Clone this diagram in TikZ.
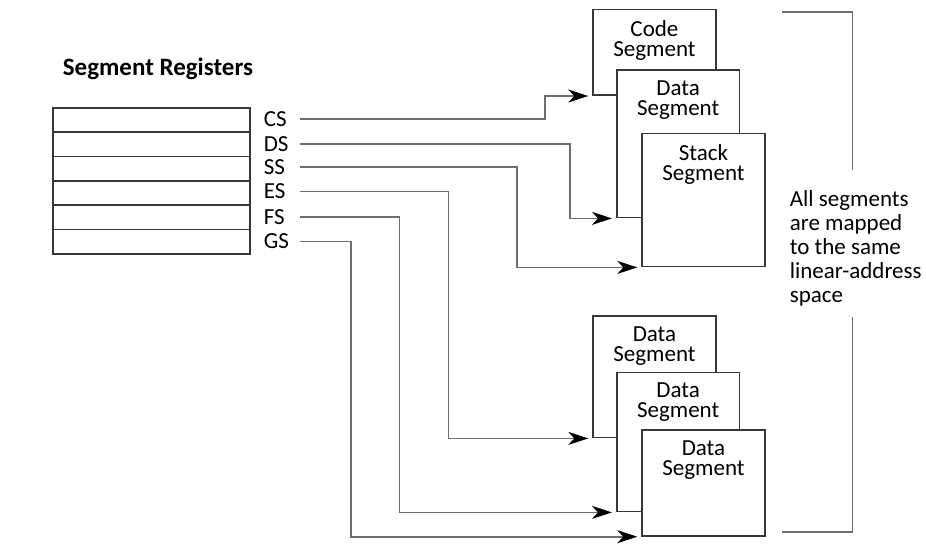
\documentclass[tikz,border=0pt]{standalone}
\usepackage{fontspec}
\setmainfont{Carlito}
\usepackage{tikz}
\usetikzlibrary{positioning, arrows.meta}
\definecolor{wiregray}{RGB}{110,110,110}
\definecolor{framegray}{RGB}{55,55,55}
\newcommand{\segfont}{\fontsize{11.5}{10}\selectfont}
\tikzset{
    regrow/.style={draw=framegray, anchor=north west, inner sep=0pt, minimum width=98.5pt, minimum height=12.17pt},
    regname/.style={anchor=west, inner sep=0pt, text width=17.5pt, align=left, font=\fontsize{11.5}{12}\selectfont},
    segbox/.style={draw=framegray, fill=white, anchor=north west, inner sep=0pt, minimum width=61.3pt},
    segtext/.style={align=center, inner sep=0pt, font=\segfont},
    link/.style={draw=wiregray, ->, shorten >=2pt},
}
% name, north west corner, height, text
\newcommand{\segment}[4]{
    \node[segbox, minimum height=#3] (#1) at (#2) {};
    \node[segtext, below=5.25pt of #1.north] (#1txt) {#4};
    }

\begin{document}
\begin{tikzpicture}[x=0.5pt, y=-0.5pt, line width=0.85pt,
    >={Stealth[length=10pt, width=6.5pt, inset=3pt, color=black]}]
    \useasboundingbox (0,0) rectangle (926,553);
    \node[font=\bfseries\fontsize{12.5}{15}\selectfont, anchor=base] (title) at (158,75) {Segment Registers};
    \foreach \i in {0,...,5}
        \node[regrow] (row\i) at (52,{107+24.33*\i}) {};
    \foreach \reg/\ypos in {CS/119.3, DS/144, SS/167.3, ES/191.5, FS/216.7, GS/241.5}
        \node[regname] (\reg) at (263,\ypos) {\reg};

    \segment{code}{592.3,8.7}{42.8pt}{Code\\Segment}
    \segment{dseg}{616,69.3}{73.7pt}{Data\\Segment}
    \segment{sseg}{641.3,132.7}{66.5pt}{Stack\\Segment}
    \segment{dsegA}{592.3,315}{60.85pt}{Data\\Segment}
    \segment{dsegB}{616,371.7}{69.5pt}{Data\\Segment}
    \segment{dsegC}{641.3,429}{53pt}{Data\\Segment}

    \draw[link] (CS.east) -- ++(245.3,0) |- (code.south west);
    \draw[link] (DS.east) -- ++(270.3,0) |- (dseg.south west);
    \draw[link] (SS.east) -- ++(217,0) |- (sseg.south west);
    \draw[link] (ES.east) -- ++(148.7,0) |- (dsegA.south west);
    \draw[link] (FS.east) -- ++(99.7,0) |- (dsegB.south west);
    \draw[link] (GS.east) -- ++(51,0) |- (dsegC.south west);

    \node[anchor=west, inner sep=0pt, align=left, font=\fontsize{11.5}{12}\selectfont] (note) at (789,248.5)
        {All segments\\are mapped\\to the same\\linear-address\\space};
    \draw[wiregray] (781.7,12) -| (852.5,170);
    \draw[wiregray] (852.5,317) |- (781.7,532);
\end{tikzpicture}
\end{document}
